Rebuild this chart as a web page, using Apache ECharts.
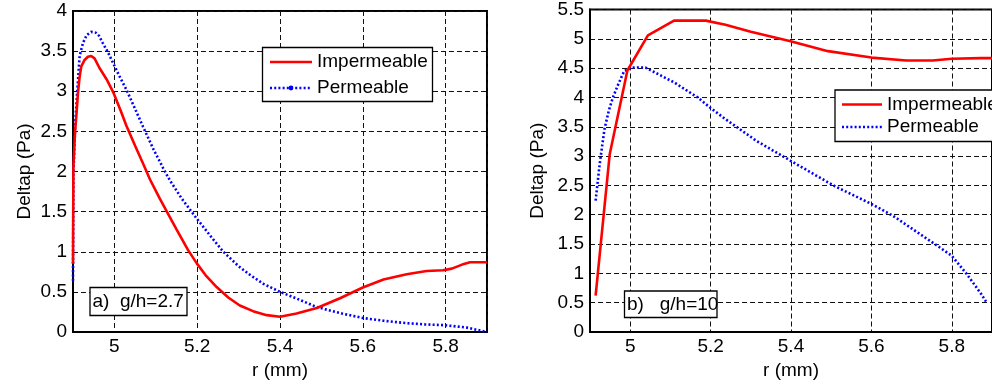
<!DOCTYPE html>
<html>
<head>
<meta charset="utf-8">
<script src="https://cdn.jsdelivr.net/npm/echarts@6/dist/echarts.min.js"></script>
<style>
html,body{margin:0;padding:0;background:#fff;}
#chart{width:992px;height:386px;}
</style>
</head>
<body>
<div id="chart"></div>
<script>
// ---- data ----
const seriesNames = ['Impermeable', 'Permeable'];
const panelLabels = ['a)  g/h=2.7', 'b)   g/h=10'];
const yTicksA = [0, 0.5, 1, 1.5, 2, 2.5, 3, 3.5, 4];
const yTicksB = [0, 0.5, 1, 1.5, 2, 2.5, 3, 3.5, 4, 4.5, 5, 5.5];

// panel a) g/h = 2.7
const aImpX = [4.900, 4.901, 4.905, 4.908, 4.912, 4.916, 4.920, 4.928, 4.936, 4.944, 4.952, 4.964, 4.981, 4.997, 5.015, 5.029, 5.050, 5.070, 5.086, 5.110, 5.130, 5.150, 5.178, 5.199, 5.220, 5.247, 5.275, 5.303, 5.335, 5.368, 5.400, 5.440, 5.489, 5.545, 5.600, 5.650, 5.706, 5.754, 5.794, 5.815, 5.840, 5.859, 5.900];
const aImpY = [0.85, 2.06, 2.50, 2.69, 2.98, 3.18, 3.31, 3.39, 3.43, 3.44, 3.41, 3.29, 3.15, 2.99, 2.76, 2.57, 2.32, 2.09, 1.90, 1.66, 1.47, 1.28, 1.02, 0.855, 0.71, 0.56, 0.43, 0.33, 0.26, 0.21, 0.19, 0.23, 0.30, 0.42, 0.555, 0.655, 0.72, 0.76, 0.77, 0.79, 0.84, 0.87, 0.87];
const aPerX = [4.900, 4.901, 4.904, 4.906, 4.910, 4.916, 4.924, 4.933, 4.944, 4.955, 4.963, 4.972, 4.985, 4.997, 5.012, 5.029, 5.050, 5.069, 5.095, 5.118, 5.134, 5.163, 5.195, 5.230, 5.263, 5.300, 5.328, 5.360, 5.400, 5.448, 5.489, 5.550, 5.600, 5.650, 5.706, 5.750, 5.800, 5.851, 5.900];
const aPerY = [0.64, 1.98, 2.40, 2.65, 2.98, 3.44, 3.60, 3.70, 3.74, 3.73, 3.69, 3.60, 3.48, 3.35, 3.19, 3.02, 2.78, 2.56, 2.27, 2.04, 1.89, 1.66, 1.44, 1.21, 1.00, 0.82, 0.71, 0.60, 0.50, 0.40, 0.31, 0.23, 0.175, 0.14, 0.11, 0.095, 0.084, 0.055, 0.0];

// panel b) g/h = 10
const bImpX = [4.914, 4.949, 4.993, 5.044, 5.109, 5.188, 5.237, 5.300, 5.399, 5.492, 5.600, 5.687, 5.752, 5.800, 5.873, 5.900];
const bImpY = [0.62, 3.03, 4.46, 5.06, 5.31, 5.31, 5.24, 5.12, 4.96, 4.79, 4.68, 4.63, 4.63, 4.66, 4.67, 4.67];
const bPerX = [4.914, 4.924, 4.936, 4.947, 4.957, 4.970, 4.985, 5.005, 5.038, 5.111, 5.168, 5.200, 5.237, 5.314, 5.399, 5.508, 5.601, 5.654, 5.764, 5.800, 5.837, 5.873, 5.885];
const bPerY = [2.24, 2.86, 3.46, 3.78, 4.00, 4.22, 4.45, 4.51, 4.51, 4.25, 4.00, 3.82, 3.63, 3.26, 2.92, 2.49, 2.18, 1.98, 1.47, 1.30, 0.99, 0.65, 0.52];

// ---- build ----
const FONT = "'Liberation Sans', Arial, Helvetica, sans-serif";
const zip = (xs, ys) => xs.map((x, i) => [x, ys[i]]);
const xFmt = v => {
  const k = v * 5;
  if (Math.abs(k - Math.round(k)) > 1e-6) return '';
  return String(+v.toFixed(1));
};
const gridDash = { show: true, lineStyle: { color: '#111', width: 1, type: [5, 3] } };

function xAxisCfg(gi) {
  return {
    type: 'value', gridIndex: gi, min: 4.9, max: 5.9, splitNumber: 5,
    name: 'r (mm)', nameLocation: 'middle', nameGap: 28,
    nameTextStyle: { fontFamily: FONT, fontSize: 19, color: '#000' },
    axisLine: { show: true, lineStyle: { color: '#000', width: 2 } },
    axisTick: { show: false },
    axisLabel: { formatter: xFmt, fontFamily: FONT, fontSize: 19, color: '#000', margin: 5, showMinLabel: false, showMaxLabel: false },
    splitLine: gridDash
  };
}
function yAxisCfg(gi, ticks, gap) {
  return {
    type: 'value', gridIndex: gi, min: ticks[0], max: ticks[ticks.length - 1], interval: 0.5,
    name: 'Deltap (Pa)', nameLocation: 'middle', nameGap: gap, nameRotate: 90,
    nameTextStyle: { fontFamily: FONT, fontSize: 19, color: '#000' },
    axisLine: { show: true, lineStyle: { color: '#000', width: 2 } },
    axisTick: { show: false },
    axisLabel: { fontFamily: FONT, fontSize: 19, color: '#000', margin: 6, formatter: v => String(v) },
    splitLine: gridDash
  };
}
function lineSeries(name, xi, data, isPerm) {
  return {
    name: name, type: 'line', xAxisIndex: xi, yAxisIndex: xi, data: data,
    showSymbol: false, symbol: 'none', silent: true, animation: false, clip: true,
    lineStyle: isPerm ? { color: '#0000ff', width: 2.6, type: [2, 2.2] } : { color: '#ff0000', width: 2.6 },
    z: isPerm ? 3 : 4
  };
}
const Z = 100;
function legendGroup(x, y, w, h, lineX0, lineX1, textX, y1, y2, withDot) {
  const ch = [
    { type: 'rect', z: Z, shape: { x: x, y: y, width: w, height: h }, style: { fill: '#fff', stroke: '#000', lineWidth: 1.3 } },
    { type: 'line', z: Z + 1, shape: { x1: lineX0, y1: y1, x2: lineX1, y2: y1 }, style: { stroke: '#ff0000', lineWidth: 2.6 } },
    { type: 'text', z: Z + 1, x: textX, y: y1, style: { text: seriesNames[0], font: '19px ' + FONT, fill: '#000', verticalAlign: 'middle' } },
    { type: 'line', z: Z + 1, shape: { x1: lineX0, y1: y2, x2: lineX1, y2: y2 }, style: { stroke: '#0000ff', lineWidth: 2.6, lineDash: [2, 2.2] } },
    { type: 'text', z: Z + 1, x: textX, y: y2, style: { text: seriesNames[1], font: '19px ' + FONT, fill: '#000', verticalAlign: 'middle' } }
  ];
  if (withDot) ch.push({ type: 'circle', z: Z + 2, shape: { cx: (lineX0 + lineX1) / 2, cy: y2, r: 2.4 }, style: { fill: '#0000ff' } });
  return { type: 'group', children: ch };
}
function labelBox(x, y, w, h, txt) {
  return { type: 'group', children: [
    { type: 'rect', z: Z, shape: { x: x, y: y, width: w, height: h }, style: { fill: '#fff', stroke: '#000', lineWidth: 1.3 } },
    { type: 'text', z: Z + 1, x: x + 2.5, y: y + h / 2 + 0.5, style: { text: txt, font: '19px ' + FONT, fill: '#000', verticalAlign: 'middle' } }
  ]};
}

const chart = echarts.init(document.getElementById('chart'), null, { renderer: 'canvas' });
chart.setOption({
  backgroundColor: '#fff',
  animation: false,
  grid: [
    { left: 73, top: 11, width: 414, height: 321, show: true, borderColor: '#000', borderWidth: 2, backgroundColor: 'transparent' },
    { left: 590, top: 8, width: 411, height: 324, show: true, borderColor: '#000', borderWidth: 2, backgroundColor: 'transparent' }
  ],
  xAxis: [xAxisCfg(0), xAxisCfg(1)],
  yAxis: [yAxisCfg(0, yTicksA, 39), yAxisCfg(1, yTicksB, 43)],
  series: [
    lineSeries(seriesNames[1], 0, zip(aPerX, aPerY), true),
    lineSeries(seriesNames[0], 0, zip(aImpX, aImpY), false),
    lineSeries(seriesNames[1], 1, zip(bPerX, bPerY), true),
    lineSeries(seriesNames[0], 1, zip(bImpX, bImpY), false)
  ],
  graphic: [
    legendGroup(262.5, 47.5, 170, 54, 270, 312, 317, 62, 88, true),
    legendGroup(835, 90, 200, 51.5, 842, 882, 887, 104.5, 127, false),
    labelBox(90, 287.5, 97, 28, panelLabels[0]),
    labelBox(624.5, 291, 92.5, 26.5, panelLabels[1])
  ]
});
</script>
</body>
</html>
